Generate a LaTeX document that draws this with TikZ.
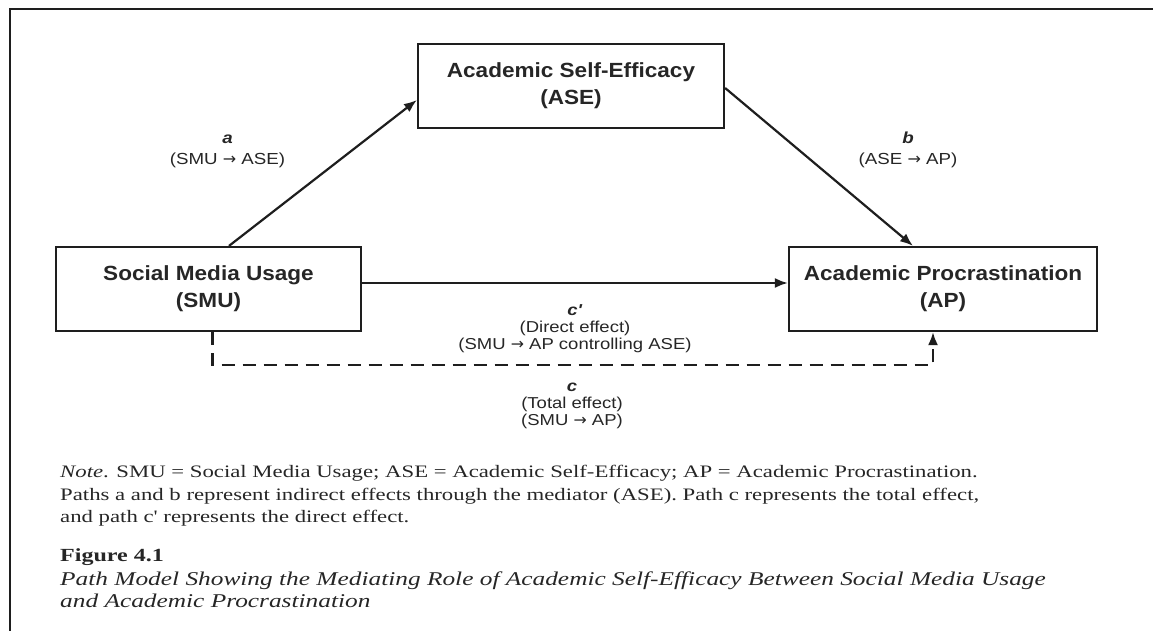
\documentclass[tikz,border=0pt]{standalone}
\usepackage{fontspec}
\setmainfont{Liberation Serif}
\newfontfamily\boxfont{Liberation Sans}[FakeStretch=1.1]
\newfontfamily\labfont{Liberation Sans}[FakeStretch=1.17]
\newfontfamily\notefont{Liberation Serif}[FakeStretch=1.3]
\newfontfamily\arrowfont{DejaVu Sans}
\newcommand{\toarrow}{{\arrowfont →}}
\usetikzlibrary{positioning}
\usetikzlibrary{calc}
\usetikzlibrary{arrows.meta}
\definecolor{ink}{HTML}{1E1E1E}
\definecolor{txt}{HTML}{262626}
\tikzset{
	state/.style ={rectangle, draw=ink, line width=2.2pt, minimum width=305pt, minimum height=84pt,
		inner sep=0pt, align=center, text=txt, font=\boxfont\bfseries\fontsize{20.5}{27}\selectfont},
	effect/.style={-{Latex[length=13pt,width=10pt]}, draw=ink, line width=2.2pt},
	total/.style={effect, dash pattern=on 13pt off 8pt},
	lab/.style = {align=center, inner sep=0pt, text=txt, font=\labfont\fontsize{16}{21}\selectfont},
	labtight/.style = {lab, font=\labfont\fontsize{15.8}{17}\selectfont},
	note/.style = {anchor=base west, inner sep=0pt, text=txt, font=\notefont\fontsize{17.5}{22.5}\selectfont},
	caption/.style = {note, font=\notefont\itshape\fontsize{19.5}{22.5}\selectfont}
}

\begin{document}
\begin{tikzpicture}[x=1pt, y=-1pt]
	\useasboundingbox (0,0) rectangle (1153,631);
	% Frame
	\draw[ink, line width=2pt] (10,631) |- (1153,9.5);
	
	\node[state, minimum width=306pt] (1) at (571, 86) {Academic Self-Efficacy\\(ASE)};
	\node[state] (2) at (208.5, 289) {Social Media Usage\\(SMU)};
	\node[state, minimum width=308pt] (3) at (943, 289) {Academic Procrastination\\(AP)};
	\coordinate (4) at (572, 365);
	
	\draw[effect] ([xshift=20.5pt]2.north) -- ([yshift=-14pt]1.west);
	\draw[effect] ([yshift=-2pt]1.east) -- ([xshift=-30pt]3.north);
	\draw[effect] ([yshift=6pt]2.east) -- ([yshift=6pt]3.west);
	\draw[total] ([xshift=4pt]2.south) |- (4) -| ([xshift=-10pt]3.south);
	
	\node[lab] (a) at (227.5, 151.5) {\textbf{\textit{a}}\\(SMU \toarrow{} ASE)};
	\node[lab] (b) at (908, 150) {\textbf{\textit{b}}\\(ASE \toarrow{} AP)};
	\node[labtight] (c1) at (575, 329) {\textbf{\textit{c'}}\\(Direct effect)\\(SMU \toarrow{} AP controlling ASE)};
	\node[labtight] (c2) at (572, 406) {\textbf{\textit{c}}\\(Total effect)\\(SMU \toarrow{} AP)};
	
	% Note and caption
	\node[note] (n1) at (60, 477) {\textit{Note}. SMU = Social Media Usage; ASE = Academic Self-Efficacy; AP = Academic Procrastination.};
	\node[note] (n2) at (60, 500) {Paths a and b represent indirect effects through the mediator (ASE). Path c represents the total effect,};
	\node[note] (n3) at (60, 522) {and path c' represents the direct effect.};
	\node[note, font=\notefont\bfseries\fontsize{18.5}{22.5}\selectfont] (f0) at (60, 561) {Figure 4.1};
	\node[caption] (f1) at (60, 585) {Path Model Showing the Mediating Role of Academic Self-Efficacy Between Social Media Usage};
	\node[caption] (f2) at (60, 607) {and Academic Procrastination};
\end{tikzpicture}
\end{document}
